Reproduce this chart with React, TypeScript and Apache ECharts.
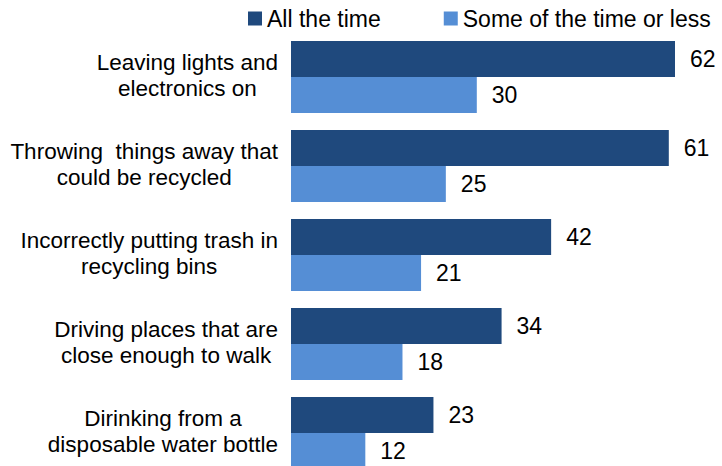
import React, { useEffect, useRef } from "react";
import * as echarts from "echarts";

const categories = [
  ["Leaving lights and", "electronics on"],
  ["Throwing  things away that", "could be recycled"],
  ["Incorrectly putting trash in", "recycling bins"],
  ["Driving places that are", "close enough to walk"],
  ["Dirinking from a", "disposable water bottle"],
];
const allTheTime = [62, 61, 42, 34, 23];
const someOfTheTime = [30, 25, 21, 18, 12];
const seriesNames = ["All the time", "Some of the time or less"];

export default function App() {
  const ref = useRef<HTMLDivElement>(null);
  useEffect(() => {
    document.body.style.margin = "0";
    const chart = echarts.init(ref.current!, null, { renderer: "svg" });
    const labelStyle = {
      show: true,
      position: "right" as const,
      distance: 15,
      color: "#000",
      fontSize: 23,
      fontFamily: "Liberation Sans",
    };
    chart.setOption({
      animation: false,
      backgroundColor: "#fff",
      legend: {
        top: 2,
        left: 243,
        itemWidth: 14,
        itemHeight: 14,
        itemGap: 63,
        icon: "rect",
        textStyle: { fontSize: 23, color: "#000", fontFamily: "Liberation Sans" },
        data: seriesNames,
      },
      grid: {
        left: 291,
        width: 384,
        top: 32.5,
        height: 445,
        containLabel: false,
        outerBoundsMode: "none",
      },
      xAxis: {
        type: "value",
        min: 0,
        max: 62,
        show: false,
      },
      yAxis: {
        type: "category",
        inverse: true,
        data: categories.map((c) => c.join("\n")),
        axisLine: { show: false },
        axisTick: { show: false },
        axisLabel: {
          margin: 13,
          align: "right",
          padding: [0, 0, 4, 0],
          formatter: (v: string) => v.split("\n").map((l) => `{c|${l}}`).join("\n"),
          rich: {
            c: {
              align: "center",
              fontSize: 22.5,
              lineHeight: 26,
              color: "#000",
              fontFamily: "Liberation Sans",
            },
          },
        },
      },
      series: [
        {
          name: seriesNames[0],
          type: "bar",
          data: allTheTime,
          itemStyle: { color: "#1F497D" },
          barGap: "0%",
          barCategoryGap: "19%",
          label: labelStyle,
        },
        {
          name: seriesNames[1],
          type: "bar",
          data: someOfTheTime,
          itemStyle: { color: "#558ED5" },
          barGap: "0%",
          barCategoryGap: "19%",
          label: labelStyle,
        },
      ],
    });
    return () => chart.dispose();
  }, []);
  return <div ref={ref} style={{ width: 722, height: 466 }} />;
}
